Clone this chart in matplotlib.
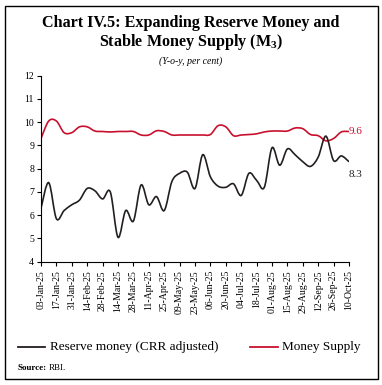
import numpy as np
import pandas as pd
import matplotlib
matplotlib.use("Agg")
import matplotlib.pyplot as plt
import matplotlib.dates as mdates
from matplotlib.path import Path
from matplotlib.patches import PathPatch, Rectangle
from matplotlib.lines import Line2D

# weekly data, 03-Jan-25 to 10-Oct-25
dates = pd.date_range("2025-01-03", "2025-10-10", freq="7D")

reserve_money = [6.3, 7.4, 5.85, 6.2, 6.45, 6.65, 7.15, 7.05, 6.7, 7.0,
                 5.05, 6.2, 5.75, 7.3, 6.45, 6.8, 6.2, 7.45, 7.8, 7.85,
                 7.15, 8.6, 7.65, 7.25, 7.2, 7.35, 6.85, 7.8, 7.5, 7.2,
                 8.9, 8.15, 8.85, 8.6, 8.3, 8.1, 8.5, 9.4, 8.35, 8.55, 8.3]

money_supply = [9.3, 10.05, 10.05, 9.55, 9.55, 9.8, 9.8, 9.62, 9.6, 9.58,
                9.6, 9.6, 9.6, 9.45, 9.45, 9.63, 9.6, 9.45, 9.45, 9.45,
                9.45, 9.45, 9.47, 9.85, 9.8, 9.42, 9.45, 9.47, 9.5, 9.58,
                9.62, 9.62, 9.62, 9.75, 9.72, 9.47, 9.42, 9.2, 9.3, 9.58, 9.6]

tick_dates = dates[::2]
tick_labels = [d.strftime("%d-%b-%y") for d in tick_dates]

RED = "#c8102e"
BLACK = "#231f20"
plt.rcParams["font.family"] = ["Liberation Serif", "DejaVu Serif"]
plt.rcParams["mathtext.fontset"] = "custom"
plt.rcParams["mathtext.rm"] = "Liberation Serif"
plt.rcParams["mathtext.bf"] = "Liberation Serif:bold"


def smooth_path(x, y):
    # excel style smoothed line: cubic bezier through every point
    pts = np.column_stack([x, y])
    n = len(pts)
    verts = [pts[0]]
    codes = [Path.MOVETO]
    for i in range(n - 1):
        p0 = pts[i - 1] if i > 0 else pts[i]
        p1 = pts[i]
        p2 = pts[i + 1]
        p3 = pts[i + 2] if i + 2 < n else pts[i + 1]
        verts += [p1 + (p2 - p0) / 6, p2 - (p3 - p1) / 6, p2]
        codes += [Path.CURVE4] * 3
    return Path(verts, codes)


fig = plt.figure(figsize=(3.82, 3.85), dpi=100)
ax = fig.add_axes([41 / 382, 1 - 261.7 / 385, 308 / 382, 186 / 385])

xnum = mdates.date2num(dates)
ax.add_patch(PathPatch(smooth_path(xnum, money_supply), fill=False, edgecolor=RED, lw=1.2))
ax.add_patch(PathPatch(smooth_path(xnum, reserve_money), fill=False, edgecolor=BLACK, lw=1.2))

ax.set_xlim(xnum[0], xnum[-1])
ax.set_ylim(4, 12)
ax.set_yticks(range(4, 13))
ax.set_xticks(mdates.date2num(tick_dates))
ax.set_xticklabels(tick_labels, rotation=90, fontsize=7)
ax.tick_params(axis="y", labelsize=7, length=3, width=0.8, pad=2)
ax.tick_params(axis="x", length=3, width=0.8, pad=3)
for s in ["top", "right"]:
    ax.spines[s].set_visible(False)
for s in ["left", "bottom"]:
    ax.spines[s].set_linewidth(0.8)

ax.text(xnum[-1], money_supply[-1], "9.6", color=RED, fontsize=8, va="center", ha="left")
ax.text(xnum[-1], 7.75, "8.3", color=BLACK, fontsize=8, va="center", ha="left")

# titles
fig.text(0.5, 1 - 23 / 385, "Chart IV.5: Expanding Reserve Money and", ha="center", va="center",
         fontsize=11.6, fontweight="bold")
fig.text(0.5, 1 - 42 / 385, r"Stable Money Supply (M$_\mathbf{3}$)", ha="center", va="center",
         fontsize=11.6, fontweight="bold")
fig.text(0.5, 1 - 61 / 385, "(Y-o-y, per cent)", ha="center", va="center", fontsize=7, style="italic")

# legend
ly = 1 - 347 / 385
fig.add_artist(Line2D([18 / 382, 45 / 382], [ly, ly], color=BLACK, lw=1.3, transform=fig.transFigure))
fig.text(50 / 382, ly, "Reserve money (CRR adjusted)", fontsize=9.5, va="center")
fig.add_artist(Line2D([250 / 382, 278 / 382], [ly, ly], color=RED, lw=1.3, transform=fig.transFigure))
fig.text(282 / 382, ly, "Money Supply", fontsize=9.5, va="center")

fig.text(18 / 382, 1 - 368 / 385, "Source:", fontsize=6.5, fontweight="bold", va="center")
fig.text(49 / 382, 1 - 368 / 385, "RBI.", fontsize=6.5, va="center")

fig.add_artist(Rectangle((5 / 382, 1 - 379 / 385), 373 / 382, 373 / 385, fill=False,
                         edgecolor="black", lw=1, transform=fig.transFigure))

fig.savefig("out.png", dpi=100)
